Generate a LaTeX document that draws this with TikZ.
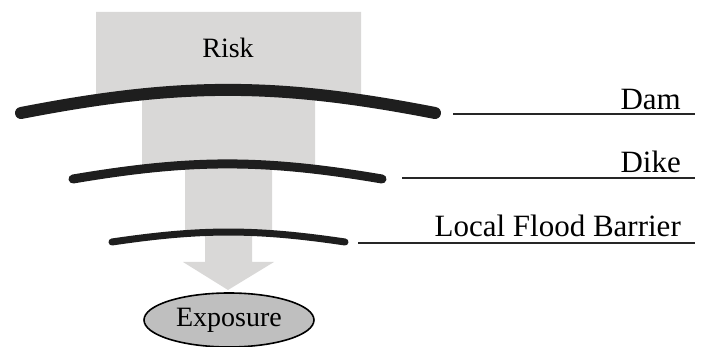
\documentclass[tikz,border=0pt]{standalone}
\usepackage{fontspec}
\setmainfont{Liberation Serif}
\usepackage{tikz}
\usetikzlibrary{shapes.geometric}
\definecolor{riskc}{RGB}{217,216,215}
\definecolor{expc}{RGB}{191,191,191}
\definecolor{wallc}{RGB}{30,30,30}
\begin{document}
\begin{tikzpicture}[x=1pt, y=-1pt,
  wall/.style={draw=wallc, line cap=round},
  tag/.style={anchor=base east, inner sep=0pt, font=\fontsize{31}{36}\selectfont},
  tagline/.style={draw=black!85, line width=1.2pt}]
  \useasboundingbox (0,0) rectangle (705,347);
  % stepped risk arrow
  \fill[riskc] (96,12) -- (361,12) -- (361,100) -- (315,100) -- (315,168) -- (272,168) -- (272,234)
    -- (252,234) -- (252,262) -- (274,262) -- (228,290) -- (183,262) -- (205,262) -- (205,234)
    -- (185,234) -- (185,168) -- (142,168) -- (142,100) -- (96,100) -- cycle;
  \node[inner sep=0pt, anchor=base, font=\fontsize{28}{32}\selectfont] (risk) at (228,58) {Risk};
  % barriers
  \coordinate (damL) at (21,113);   \coordinate (damR) at (435,113);
  \coordinate (dikeL) at (73,179);  \coordinate (dikeR) at (382,179);
  \coordinate (lfbL) at (112,242);  \coordinate (lfbR) at (345,242);
  \draw[wall, line width=12pt] (damL) to[bend left=11] (damR);
  \draw[wall, line width=9pt] (dikeL) to[bend left=9.6] (dikeR);
  \draw[wall, line width=7pt] (lfbL) to[bend left=8.4] (lfbR);
  % labels
  \node[tag] (dam) at (681,110) {Dam};
  \node[tag] (dike) at (681,173) {Dike};
  \node[tag] (lfb) at (681,237) {Local Flood Barrier};
  \coordinate (damA) at (453,114);  \coordinate (damB) at (695,114);
  \coordinate (dikeA) at (402,178); \coordinate (dikeB) at (695,178);
  \coordinate (lfbA) at (358,243);  \coordinate (lfbB) at (695,243);
  \draw[tagline] (damA) -- (damB);
  \draw[tagline] (dikeA) -- (dikeB);
  \draw[tagline] (lfbA) -- (lfbB);
  % exposure
  \node[ellipse, draw=black, line width=1.6pt, fill=expc, minimum width=170pt, minimum height=54pt,
    inner sep=0pt, font=\fontsize{28}{32}\selectfont] (exp) at (229,320) {Exposure};
\end{tikzpicture}
\end{document}
